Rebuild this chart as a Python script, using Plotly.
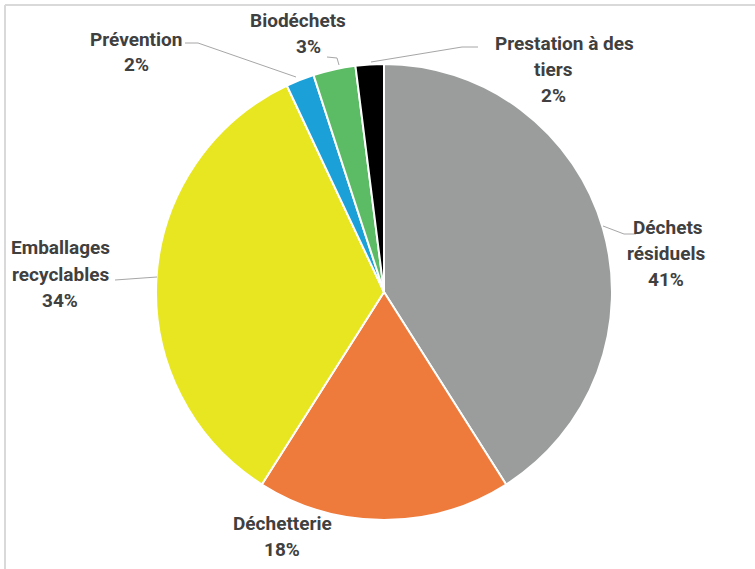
import plotly.graph_objects as go

# data
labels = ["Déchets résiduels", "Déchetterie", "Emballages recyclables",
          "Prévention", "Biodéchets", "Prestation à des tiers"]
values = [41, 18, 34, 2, 3, 2]
colors = ["#9b9d9d", "#ee7a3c", "#e8e620", "#1ba1d8", "#5cbb65", "#000000"]

# label text lines (as wrapped in the original) and where they sit, in pixels
label_lines = [["Déchets", "résiduels"], ["Déchetterie"], ["Emballages", "recyclables"],
               ["Prévention"], ["Biodéchets"], ["Prestation à des", "tiers"]]
label_pos = [(668, 227), (282, 523), (60, 248), (136, 39), (298, 21), (564, 43)]
rest_dx = [-2, 0, 0, 0, 10, -11]   # shift of the lines after the first one
leaders = [
    [(603, 226), (624, 234), (636, 234)],
    None,
    [(115, 280), (157, 277)],
    [(185, 43), (198, 43), (296, 77)],
    [(327, 57), (337, 58), (339, 65)],
    [(478, 47), (462, 47), (371, 62)],
]

W, H = 755, 569
CX, CY, R = 384, 292, 228
LINE_GAP = 26
FONT = dict(family="Roboto, Liberation Sans, sans-serif", size=19, color="#404040")


def px(x, y):
    return x / W, 1 - y / H


fig = go.Figure(go.Pie(
    labels=labels, values=values,
    marker=dict(colors=colors, line=dict(color="white", width=2)),
    sort=False, direction="clockwise", rotation=0,
    textinfo="none", hoverinfo="label+percent",
    domain=dict(x=[(CX - R) / W, (CX + R) / W], y=[(H - CY - R) / H, (H - CY + R) / H]),
))

total = sum(values)
annotations = []
for lines, (x, y), dx, v in zip(label_lines, label_pos, rest_dx, values):
    texts = lines + [f"{round(100 * v / total)}%"]
    for i, t in enumerate(texts):
        ax, ay = px(x + (dx if i else 0), y + i * LINE_GAP)
        annotations.append(dict(x=ax, y=ay, xref="paper", yref="paper", text=f"<b>{t}</b>",
                                showarrow=False, xanchor="center", yanchor="middle", font=FONT))

shapes = []
for pts in leaders:
    if not pts:
        continue
    for (x0, y0), (x1, y1) in zip(pts[:-1], pts[1:]):
        a0, b0 = px(x0, y0)
        a1, b1 = px(x1, y1)
        shapes.append(dict(type="line", xref="paper", yref="paper", x0=a0, y0=b0, x1=a1, y1=b1,
                           line=dict(color="#a6a6a6", width=1)))

# chart frame (only top and left edges are visible)
shapes.append(dict(type="line", xref="paper", yref="paper", x0=5 / W, y0=1 - 5 / H, x1=1.01, y1=1 - 5 / H,
                   line=dict(color="#d9d9d9", width=2)))
shapes.append(dict(type="line", xref="paper", yref="paper", x0=5 / W, y0=1 - 5 / H, x1=5 / W, y1=-0.01,
                   line=dict(color="#d9d9d9", width=2)))

fig.update_layout(
    width=W, height=H,
    margin=dict(l=0, r=0, t=0, b=0),
    paper_bgcolor="white",
    showlegend=False,
    annotations=annotations,
    shapes=shapes,
)

fig.write_html("out.html", config={"displayModeBar": False},
               post_script="document.body.style.margin='0px';")
